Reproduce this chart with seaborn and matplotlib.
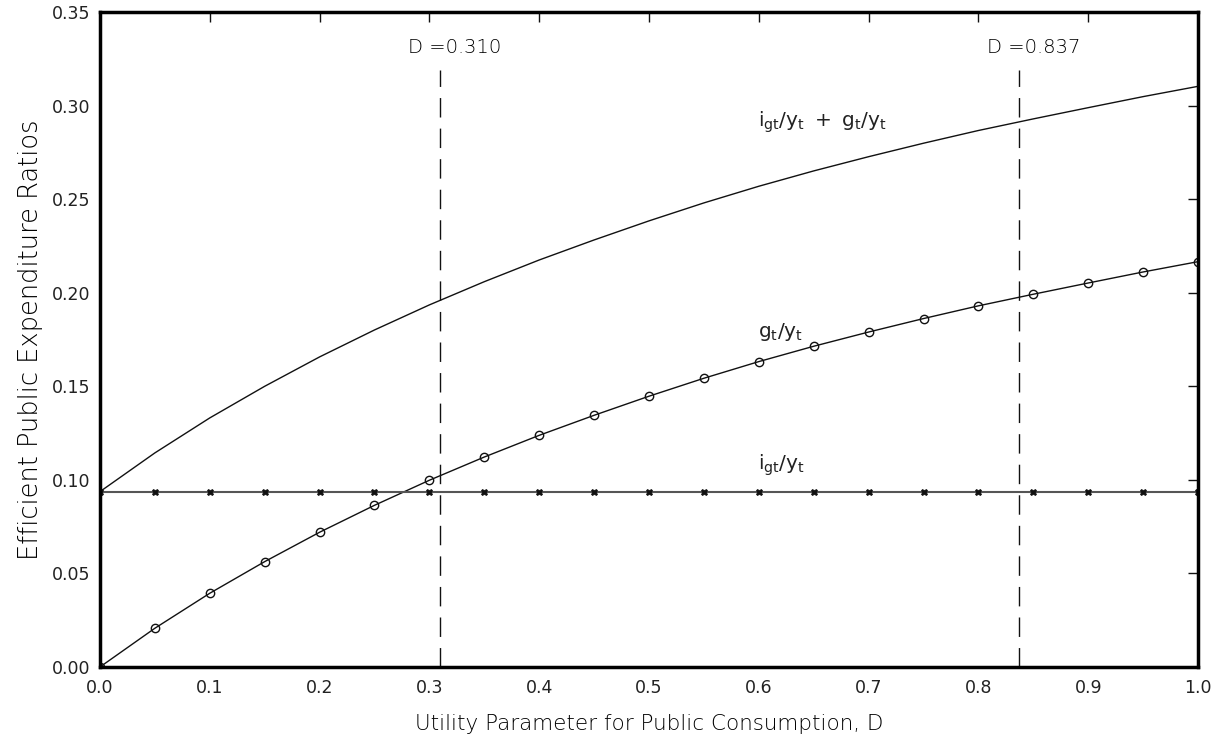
import pandas as pd
import seaborn as sns
import matplotlib.pyplot as plt

# values
D = [0.00, 0.05, 0.10, 0.15, 0.20, 0.25, 0.30, 0.35, 0.40, 0.45, 0.50,
     0.55, 0.60, 0.65, 0.70, 0.75, 0.80, 0.85, 0.90, 0.95, 1.00]
g_ratio = [0.0000, 0.0207, 0.0394, 0.0563, 0.0720, 0.0864, 0.0998, 0.1122,
           0.1238, 0.1345, 0.1447, 0.1543, 0.1632, 0.1714, 0.1790, 0.1862,
           0.1930, 0.1992, 0.2052, 0.2111, 0.2166]
i_ratio = [0.0937] * 21
total_ratio = [0.0937, 0.1144, 0.1331, 0.1500, 0.1657, 0.1801, 0.1935, 0.2059,
               0.2175, 0.2282, 0.2384, 0.2480, 0.2569, 0.2651, 0.2727, 0.2799,
               0.2867, 0.2929, 0.2989, 0.3048, 0.3103]
d_marks = [0.310, 0.837]
d_labels = ['D =0.310', 'D =0.837']

sns.set_theme(style="white")
plt.rcParams['font.family'] = ['DejaVu Sans']

df = pd.DataFrame({'D': D, 'g': g_ratio, 'i': i_ratio, 'total': total_ratio})

fig = plt.figure(figsize=(12.22, 7.43), dpi=100)
ax = fig.add_axes([0.0818, 0.1023, 0.8986, 0.8815])

ink = '#111111'
txt = '#222222'
sns.lineplot(data=df, x='D', y='total', ax=ax, color=ink, lw=1.0)
sns.lineplot(data=df, x='D', y='g', ax=ax, color=ink, lw=1.0,
             marker='o', markersize=6, markerfacecolor='none',
             markeredgecolor=ink, markeredgewidth=1.0)
sns.lineplot(data=df, x='D', y='i', ax=ax, color='#555555', lw=1.5,
             marker='X', markersize=5, markerfacecolor=ink,
             markeredgecolor=ink, markeredgewidth=0.5)

for d, lab in zip(d_marks, d_labels):
    ax.plot([d, d], [0, 0.319], color=ink, lw=1.0, dashes=(14, 8))
    ax.text(d + 0.013, 0.331, lab, ha='center', va='center',
            fontsize=14, color='black', fontweight='light')

ax.text(0.599, 0.291, r'$\mathregular{i_{gt}/y_t\ +\ g_t/y_t}$',
        fontsize=14.5, color=txt, va='center')
ax.text(0.599, 0.179, r'$\mathregular{g_t/y_t}$',
        fontsize=14.5, color=txt, va='center')
ax.text(0.599, 0.108, r'$\mathregular{i_{gt}/y_t}$',
        fontsize=14.5, color=txt, va='center')

ax.set_xlim(0, 1.0)
ax.set_ylim(0, 0.35)
ax.set_xticks([i / 10 for i in range(11)])
ax.set_xticklabels([f'{i / 10:.1f}' for i in range(11)])
ax.set_yticks([i * 0.05 for i in range(8)])
ax.set_yticklabels([f'{i * 0.05:.2f}' for i in range(8)])
ax.tick_params(direction='in', length=7, width=1, top=True, right=True,
               labelsize=12.5, labelcolor=txt, color=ink)
ax.tick_params(axis='x', pad=9)
ax.tick_params(axis='y', pad=7)

for s in ax.spines.values():
    s.set_color('black')
    s.set_linewidth(2.5)

ax.set_xlabel('Utility Parameter for Public Consumption, D', fontsize=15.5,
              color='black', labelpad=12, fontweight='light')
ax.set_ylabel('Efficient Public Expenditure Ratios', fontsize=18.5,
              color='black', labelpad=6, fontweight='light')

fig.savefig('out.png', dpi=100)
